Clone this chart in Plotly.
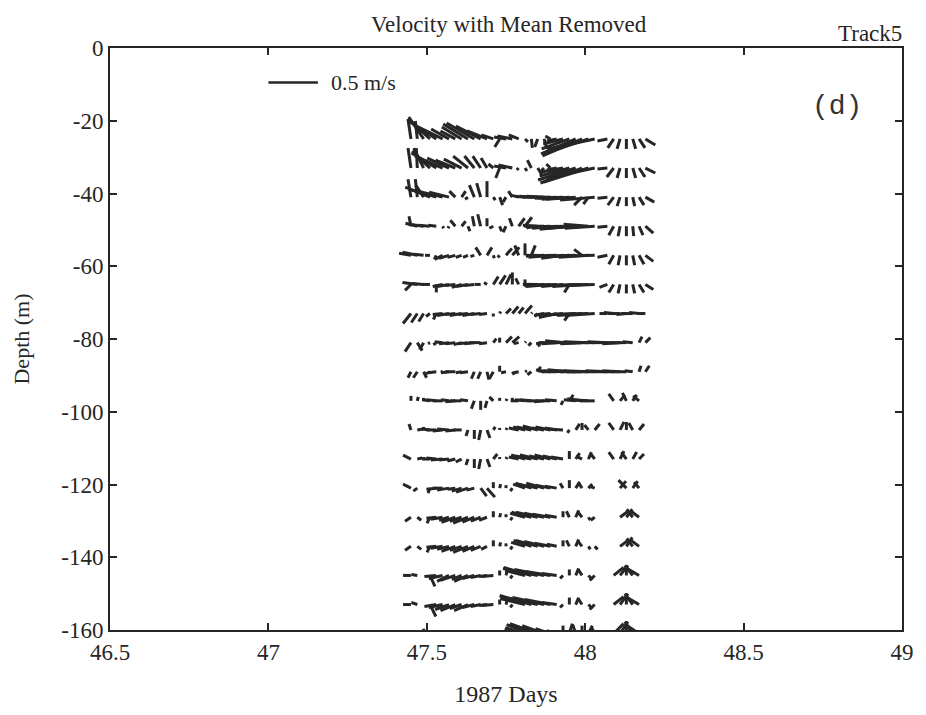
import plotly.graph_objects as go

# ---------------- data ----------------
# sample times (1987 days)
times = [47.45, 47.47, 47.49, 47.51, 47.53, 47.55, 47.57, 47.59, 47.61, 47.63,
         47.65, 47.67, 47.69, 47.71, 47.73, 47.75, 47.77, 47.79, 47.81, 47.83,
         47.85, 47.87, 47.89, 47.91, 47.93, 47.95, 47.97, 47.99, 48.01, 48.03,
         48.07, 48.09, 48.11, 48.13, 48.15, 48.17, 48.19]

depths = [-25, -33, -41, -49, -57, -65, -73, -81, -89, -97, -105, -113, -121,
          -129, -137, -145, -153, -161]

# velocity anomalies, cm/s (east u, north v), one list per depth bin
u01 = [-3,-2,-15,-22,-28,-25,-18,-15,-20,-25,-28,-25,-20,-12,-5,-12,-15,-10,3,1,-3,3,-5,-10,-20,-28,-35,-40,-45,-48,-10,-6,-3,0,3,6,10]
v01 = [20,18,22,20,18,12,10,8,12,15,16,13,8,4,-8,2,3,4,-3,-9,-8,-10,3,-2,-5,-10,-15,-17,-15,-10,-2,-9,-10,-10,-10,-9,-6]
u02 = [-3,-1,-10,-18,-25,-28,-22,-20,-18,-15,-10,-8,-6,-5,-4,-12,-14,-2,2,-4,5,-3,-4,-10,-22,-30,-38,-42,-45,-48,-10,-7,-3,0,3,6,10]
v02 = [20,20,20,17,15,12,10,8,9,12,12,12,10,4,-10,2,3,-2,-3,8,-8,-3,4,-2,-4,-8,-12,-15,-14,-10,-1,-9,-10,-10,-10,-9,-5]
u03 = [-3,-2,-8,-25,-28,-25,-20,-6,4,-3,-5,-4,0,2,3,-3,-4,-8,-10,-12,-15,-18,-20,-22,-25,-28,-30,-8,-5,-35,-10,-6,-3,0,2,5,9]
v03 = [18,18,12,10,8,6,5,6,6,-2,12,14,16,-3,-8,-5,6,2,1,1,0,1,0,-1,-1,-2,-2,-8,-7,-3,-1,-8,-9,-9,-9,-8,-5]
u04 = [-2,-12,-15,-12,-8,1,-1,-5,4,2,-2,-3,0,-4,2,-3,-3,6,7,-5,-15,-20,-22,-25,-28,-30,-28,-32,-25,-30,-10,-5,-2,0,1,4,8]
v04 = [10,3,2,1,1,-2,-2,6,5,-5,10,12,8,-2,-5,-6,8,8,9,-2,1,0,-1,-2,-1,-3,-2,-1,2,-2,-1,-9,-10,-10,-10,-9,-7]
u05 = [-12,-15,-10,-5,-2,-8,-10,-8,-6,-5,-4,-5,5,1,-2,6,7,-4,0,4,-12,-18,-22,-25,-22,-28,-25,-8,-30,-35,-10,-5,-2,0,2,5,8]
v05 = [2,3,1,0,-4,-4,-3,-2,-2,-2,-1,8,8,-3,-2,7,8,10,12,10,0,-1,-2,-1,-3,-2,-1,6,-2,-1,-2,-9,-10,-10,-10,-9,-6]
u06 = [-6,-15,-12,-8,0,-10,-12,-10,-10,-12,-10,-6,-3,5,6,5,0,-3,0,-8,-15,-20,-25,-28,-22,-5,-25,-30,-28,-30,-8,-5,-2,0,2,5,8]
v06 = [-6,2,1,0,-8,-2,-2,-1,-3,-2,-1,0,2,8,9,10,12,6,5,0,0,-1,-2,-1,-2,-8,-1,-2,-1,-1,-3,-8,-9,-9,-9,-8,-5]
u07 = [-8,-6,-5,-4,-3,-10,-12,-10,-12,-10,-12,-10,-8,0,1,5,6,5,7,1,-3,-10,-12,-18,-20,-5,-22,-25,-28,-30,-8,-10,-12,-10,-12,-10,-8]
v07 = [-10,-9,-8,-3,-6,-1,-2,-1,-2,-1,-2,-1,-1,-3,2,5,7,6,8,1,-3,-2,-1,-4,-2,-7,-1,-2,-1,-2,0,1,0,-1,0,1,0]
u08 = [-6,5,-4,-2,-3,-8,-10,-10,-8,-10,-10,-12,-8,3,0,6,7,-5,1,-3,2,-8,-12,-15,-18,-22,-25,-22,-25,-28,-20,-22,-18,-15,-10,3,5]
v08 = [-9,-8,-7,-1,-2,1,-1,-1,-2,-1,-1,0,-1,4,5,6,6,-1,1,-3,-4,-1,0,-1,2,1,0,-1,1,0,1,0,-1,0,1,6,5]
u09 = [-3,-4,3,-4,-8,-2,-8,-10,-6,-8,-3,-3,2,-4,0,-5,2,-5,2,-4,3,-8,-12,-15,-20,-22,-25,-22,-25,-28,-22,-20,-18,-15,-8,2,4]
v09 = [-6,-6,-6,-2,-1,0,-1,0,-1,-1,-7,-7,-8,-7,6,-1,-3,-1,1,-3,5,2,1,0,1,2,1,0,1,0,1,0,1,0,1,6,6]
u10 = [0,1,0,-8,-10,-10,-8,-10,-12,-8,-3,0,-2,-4,0,1,0,-8,-10,-12,-12,-10,-15,-12,-2,4,-12,-15,-18,-15,0,-5,5,-4,4,-6,0]
v10 = [5,4,3,1,1,0,1,-1,0,1,-8,-9,-7,4,3,2,3,0,1,1,0,-1,0,1,-4,6,1,2,1,0,0,7,6,8,6,5,0]
u11 = [-2,6,0,-8,-10,-10,-12,-10,-8,-2,0,-2,3,2,0,1,0,-10,-12,-15,-15,-12,-15,-12,-15,-2,4,0,-4,5,0,-5,4,0,-4,5,0]
v11 = [6,1,3,1,0,-1,1,-1,0,-6,-9,-10,-8,3,2,2,2,2,3,3,4,2,3,2,1,-3,6,7,5,6,0,7,8,8,7,6,0]
u12 = [-8,5,0,-8,-10,-12,-10,-8,-6,-2,0,-2,3,4,0,1,0,-10,-14,-16,-18,-15,-16,-14,-12,0,4,-6,3,-4,0,-5,4,-5,4,5,0]
v12 = [4,1,2,0,1,-1,-1,-2,-3,-6,-9,-10,-8,5,2,2,2,2,4,3,4,3,4,3,2,8,6,3,7,5,0,7,8,7,7,5,0]
u13 = [-8,-4,0,-2,-10,-10,-12,-8,-10,-12,-8,6,8,0,1,0,-2,0,-12,-16,-20,-18,-15,-12,-3,0,4,-4,4,-6,0,0,6,-8,5,-5,0]
v13 = [4,-3,0,-5,-1,0,-2,-1,-3,-4,-2,-8,-9,6,4,3,-3,0,4,5,4,5,3,2,5,8,6,6,4,2,0,0,7,8,7,6,0]
u14 = [-6,4,0,-3,-10,-12,-10,-14,-12,-15,-12,-10,-8,0,1,0,-2,0,-15,-20,-22,-20,-18,-12,0,-3,3,-4,2,-4,0,0,8,6,-6,-8,0]
v14 = [-4,-3,0,-6,-1,-2,-3,-5,-4,-6,-5,-4,-3,6,4,3,-3,0,4,5,5,4,3,2,6,6,7,5,-3,-3,0,0,6,8,8,6,0]
u15 = [-6,4,0,-3,-10,-12,-12,-14,-12,-15,-12,-10,-6,0,1,0,-2,0,-14,-18,-22,-20,-16,-10,0,-3,3,-4,2,3,0,0,8,6,-6,-8,0]
v15 = [-4,-3,0,-6,-1,-2,-3,-5,-4,-6,-5,-4,-3,6,4,3,-3,0,4,6,6,5,3,2,6,6,7,5,-3,-3,0,0,6,9,8,6,0]
u16 = [-8,-6,0,5,-12,-14,-12,-15,-10,-14,-12,-10,-8,-12,0,1,-2,0,-20,-28,-35,-30,-25,-15,-3,0,3,-4,4,-5,0,10,8,0,-8,-12,0]
v16 = [0,1,0,-11,-1,-3,-6,-5,-4,-6,-3,-2,-1,-1,5,4,-3,0,5,8,7,6,4,2,-3,6,7,6,-4,-5,0,8,10,10,10,7,0]
u17 = [-8,-6,0,6,-12,-14,-14,-15,-12,-14,-12,-10,-8,-12,0,1,-2,0,-25,-32,-38,-32,-26,-15,-3,0,3,-4,4,-5,0,10,8,0,-8,-12,0]
v17 = [0,2,0,-12,-2,-3,-5,-6,-4,-6,-3,-2,-1,-1,5,4,-3,0,6,9,8,7,5,2,-3,7,7,6,-4,-5,0,8,11,10,11,7,0]
u18 = [0,0,0,0,0,0,0,0,0,0,0,0,0,0,0,0,0,0,-20,-25,-28,-22,-15,-10,0,3,-3,0,4,-3,0,10,8,0,-8,-12,0]
v18 = [0,0,5,0,0,0,0,0,0,0,0,0,0,0,0,5,0,0,6,9,10,8,5,3,8,10,9,8,8,6,0,10,12,12,12,8,0]

x_ticks = [46.5, 47, 47.5, 48, 48.5, 49]
x_tick_text = ["46.5", "47", "47.5", "48", "48.5", "49"]
y_ticks = [0, -20, -40, -60, -80, -100, -120, -140, -160]
y_tick_text = ["0", "-20", "-40", "-60", "-80", "-100", "-120", "-140", "-160"]

scale_speed = 50  # cm/s reference arrow (0.5 m/s)

# ---------------- layout geometry ----------------
W, H = 926, 715
ML, MR, MT, MB = 110, 16, 48, 84
XR = [46.5, 49.0]
YR = [-160.0, 0.0]
plot_w = W - ML - MR
plot_h = H - MT - MB
# 1 cm/s is drawn as 1 pixel, converted into data units of each axis
sx = (XR[1] - XR[0]) / plot_w
sy = (YR[1] - YR[0]) / plot_h

u_rows = [u01, u02, u03, u04, u05, u06, u07, u08, u09, u10, u11, u12, u13, u14, u15, u16, u17, u18]
v_rows = [v01, v02, v03, v04, v05, v06, v07, v08, v09, v10, v11, v12, v13, v14, v15, v16, v17, v18]

xs, ys = [], []
for z, ur, vr in zip(depths, u_rows, v_rows):
    for t, u, v in zip(times, ur, vr):
        if u == 0 and v == 0:
            continue
        xs += [t, t + u * sx, None]
        ys += [z, z + v * sy, None]

INK = "#262626"
serif = "Liberation Serif"
fig = go.Figure()
fig.add_trace(go.Scatter(x=xs, y=ys, mode="lines",
                         line=dict(color=INK, width=3),
                         hoverinfo="skip", showlegend=False))

# scale arrow
sb_x, sb_y = 47.0, -9.5
fig.add_trace(go.Scatter(x=[sb_x, sb_x + scale_speed * sx], y=[sb_y, sb_y],
                         mode="lines", line=dict(color=INK, width=2.5),
                         hoverinfo="skip", showlegend=False, cliponaxis=False))

fig.add_annotation(x=sb_x + scale_speed * sx + 0.035, y=sb_y, xref="x", yref="y",
                   text="0.5 m/s", showarrow=False, xanchor="left", yanchor="middle",
                   font=dict(family=serif, size=22, color=INK))
fig.add_annotation(x=0.504, y=1.0, xref="paper", yref="paper", yshift=9,
                   text="Velocity with Mean Removed", showarrow=False,
                   xanchor="center", yanchor="bottom",
                   font=dict(family=serif, size=23, color=INK))
fig.add_annotation(x=0.96, y=1.0, xref="paper", yref="paper", yshift=0,
                   text="Track5", showarrow=False, xanchor="center", yanchor="bottom",
                   font=dict(family=serif, size=23, color=INK))
fig.add_annotation(x=0.918, y=0.9, xref="paper", yref="paper",
                   text="(d)", showarrow=False, xanchor="center", yanchor="middle",
                   font=dict(family="Liberation Mono", size=28, color="#333"))

axis_common = dict(showline=True, linecolor=INK, linewidth=2, mirror="ticks",
                   ticks="inside", ticklen=7, tickwidth=1.5, tickcolor=INK,
                   showgrid=False, zeroline=False,
                   tickfont=dict(family=serif, size=23, color=INK))

fig.update_xaxes(range=XR, tickvals=x_ticks, ticktext=x_tick_text,
                 title=dict(text="1987 Days", font=dict(family=serif, size=24, color=INK),
                            standoff=22),
                 **axis_common)
fig.update_yaxes(range=YR, tickvals=y_ticks, ticktext=y_tick_text,
                 title=dict(text="Depth (m)", font=dict(family=serif, size=22, color=INK),
                            standoff=26),
                 **axis_common)

fig.update_layout(width=W, height=H, autosize=False,
                  font=dict(family=serif, color=INK),
                  margin=dict(l=ML, r=MR, t=MT, b=MB, pad=0),
                  plot_bgcolor="white", paper_bgcolor="white")

fig.write_html("out.html")
